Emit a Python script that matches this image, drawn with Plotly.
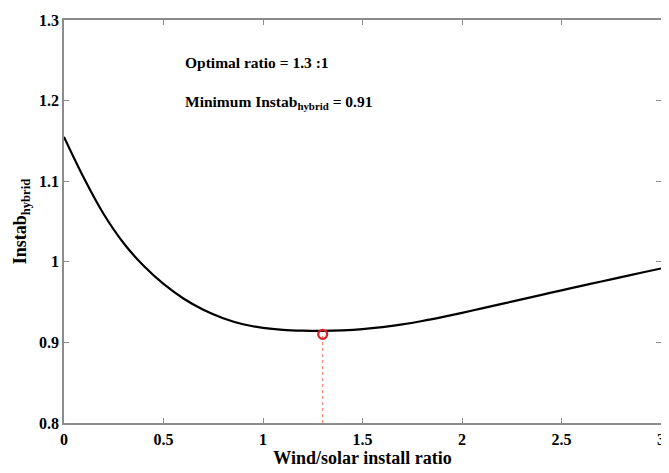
import plotly.graph_objects as go

ratio = [0, 0.1, 0.2, 0.3, 0.4, 0.5, 0.6, 0.7, 0.8, 0.9, 1.0, 1.1, 1.2, 1.3,
         1.4, 1.5, 1.6, 1.7, 1.8, 1.9, 2.0, 2.1, 2.2, 2.3, 2.4, 2.5, 2.6, 2.7,
         2.8, 2.9, 3.0]
instab = [1.155, 1.104, 1.059, 1.023, 0.995, 0.9725, 0.9545, 0.9405, 0.930, 0.9225,
          0.918, 0.9155, 0.9145, 0.9143, 0.9150, 0.9165, 0.9190, 0.9224, 0.9266,
          0.9314, 0.9366, 0.9422, 0.9478, 0.9534, 0.9590, 0.9646, 0.9701, 0.9756,
          0.9810, 0.9864, 0.9917]
opt_x = [1.3]
opt_y = [0.91]
x_ticks = [0, 0.5, 1, 1.5, 2, 2.5, 3]
x_tick_text = ["0", "0.5", "1", "1.5", "2", "2.5", "3"]
y_ticks = [0.8, 0.9, 1.0, 1.1, 1.2, 1.3]
y_tick_text = ["0.8", "0.9", "1", "1.1", "1.2", "1.3"]

FONT = "Liberation Serif"
# page body has an 8px margin; size the figure so it fits the 669x473 window
W, H = 661, 465
L, R, T, B = 56, 4, 5, 50

fig = go.Figure()
fig.add_trace(go.Scatter(
    x=[opt_x[0], opt_x[0]], y=[0.8, opt_y[0]], mode="lines",
    line=dict(color="#ef7a5a", width=1, dash="dot"), showlegend=False,
    hoverinfo="skip"))
fig.add_trace(go.Scatter(
    x=ratio, y=instab, mode="lines", line=dict(color="black", width=2.2, shape="spline", smoothing=1.0),
    showlegend=False))
fig.add_trace(go.Scatter(
    x=opt_x, y=opt_y, mode="markers",
    marker=dict(symbol="circle-open", color="#e0202a", size=9, line=dict(width=2.2, color="#e0202a")),
    showlegend=False))

axis_common = dict(
    showgrid=False, zeroline=False, showline=True, linecolor="#8c8c8c", linewidth=1.5,
    ticks="inside", ticklen=5, tickcolor="#8c8c8c", mirror="ticks",
    ticklabeloverflow="allow",
    tickfont=dict(family=FONT, size=16, color="black", weight="bold"),
)

plot_w = W - L - R
plot_h = H - T - B


def px_x(p):
    return (p - L) / plot_w


def px_y(p):
    return 1 - (p - T) / plot_h


fig.update_layout(
    width=W, height=H,
    margin=dict(l=L, r=R, t=T, b=B),
    plot_bgcolor="white", paper_bgcolor="white",
    font=dict(family=FONT, color="black"),
    xaxis=dict(range=[0, 3], tickvals=x_ticks, ticktext=x_tick_text,
               ticklabelstandoff=1,
               title=dict(text="<b>Wind/solar install ratio</b>",
                          font=dict(family=FONT, size=18, color="black"), standoff=3),
               **axis_common),
    yaxis=dict(range=[0.8, 1.3], tickvals=y_ticks, ticktext=y_tick_text,
               title=dict(text="<b>Instab<sub>hybrid</sub></b>",
                          font=dict(family=FONT, size=18, color="black"), standoff=8),
               **axis_common),
    annotations=[
        dict(x=px_x(176), y=px_y(48), xref="paper", yref="paper",
             text="<b>Optimal ratio = 1.3 :1</b>",
             showarrow=False, xanchor="left", yanchor="middle",
             font=dict(family=FONT, size=15.5, color="black")),
        dict(x=px_x(176), y=px_y(89), xref="paper", yref="paper",
             text="<b>Minimum Instab<sub>hybrid</sub> = 0.91</b>",
             showarrow=False, xanchor="left", yanchor="middle",
             font=dict(family=FONT, size=15.5, color="black")),
    ],
)

fig.write_html("out.html")
